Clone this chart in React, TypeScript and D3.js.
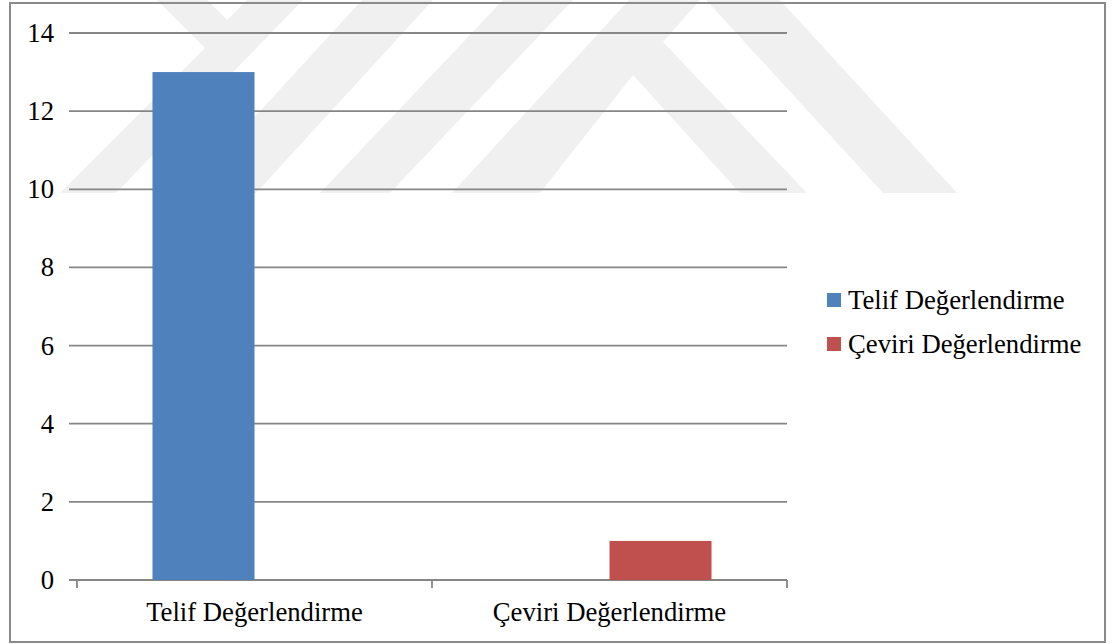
import React from 'react';
import * as d3 from 'd3';

// chart data
const categories = ['Telif Değerlendirme', 'Çeviri Değerlendirme'];
const seriesNames = ['Telif Değerlendirme', 'Çeviri Değerlendirme'];
const telifValues = [13, 0];
const ceviriValues = [0, 1];
const yTicks = [0, 2, 4, 6, 8, 10, 12, 14];
const seriesColors = ['#4F81BD', '#C0504D'];

// faint background watermark shapes (page decoration)
const watermark: [number, number][][] = [
  [[157, 0], [207, 0], [227, 20], [247, 0], [303, 0], [116, 193], [60, 193], [205, 48]],
  [[362, 0], [433, 0], [256, 193], [185, 193]],
  [[503, 0], [573, 0], [390, 193], [320, 193]],
  [[452, 193], [629, 0], [700, 0], [663, 42], [807, 193], [740, 193], [633, 75], [540, 193]],
  [[706, 0], [780, 0], [957, 193], [883, 193]],
];

const W = 1112;
const H = 644;
const font = "'Liberation Serif', 'DejaVu Serif', serif";

export default function App() {
  const values = [telifValues, ceviriValues];

  const y = d3.scaleLinear().domain([0, 14]).range([580, 33]);
  const x0 = d3.scaleBand<string>().domain(categories).range([77, 787]).padding(0);
  const x1 = d3
    .scaleBand<string>()
    .domain(seriesNames)
    .range([0, x0.bandwidth()])
    .paddingInner(0)
    .paddingOuter(0.74);

  const line = d3.line();
  const txt = { fontFamily: font, fontSize: 26.7, fill: '#000' } as React.CSSProperties;

  return (
    <svg
      width={W}
      height={H}
      style={{ position: 'absolute', left: 0, top: 0, background: '#fff' }}
    >
      {watermark.map((pts, i) => (
        <path key={i} d={line(pts) + 'Z'} fill="#f0f0f0" />
      ))}

      <rect x={10} y={3} width={1095} height={639} fill="none" stroke="#8a8a8a" strokeWidth={2} />

      {/* gridlines + y labels */}
      {yTicks.map((t) => (
        <g key={t}>
          <line x1={69} x2={787} y1={y(t)} y2={y(t)} stroke="#868686" strokeWidth={1.8} />
          <text x={54} y={y(t) + 9} textAnchor="end" style={txt}>
            {t}
          </text>
        </g>
      ))}

      {/* category tick marks */}
      {[...categories.map((c) => x0(c)!), 787].map((xv, i) => (
        <line key={i} x1={xv} x2={xv} y1={580} y2={588} stroke="#868686" strokeWidth={1.8} />
      ))}

      {/* bars */}
      {categories.map((c, ci) => (
        <g key={c} transform={`translate(${x0(c)},0)`}>
          {seriesNames.map((s, si) => {
            const v = values[si][ci];
            if (!v) return null;
            return (
              <rect
                key={s}
                x={x1(s)}
                y={y(v)}
                width={x1.bandwidth()}
                height={y(0) - y(v)}
                fill={seriesColors[si]}
              />
            );
          })}
        </g>
      ))}

      {/* category labels */}
      {categories.map((c) => (
        <text key={c} x={x0(c)! + x0.bandwidth() / 2} y={621} textAnchor="middle" style={txt}>
          {c}
        </text>
      ))}

      {/* legend */}
      {seriesNames.map((s, i) => (
        <g key={s} transform={`translate(827,${309 + i * 44})`}>
          <rect x={0} y={-16} width={14} height={14} fill={seriesColors[i]} />
          <text x={21} y={0} style={txt}>
            {s}
          </text>
        </g>
      ))}
    </svg>
  );
}
